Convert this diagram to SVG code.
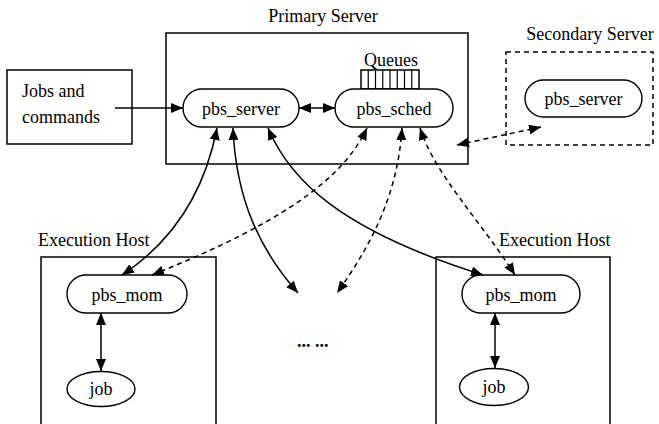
<svg xmlns="http://www.w3.org/2000/svg" width="659" height="424" viewBox="0 0 659 424">
<defs>
<style>
text{font-family:"Liberation Serif","Times New Roman",serif;font-size:18px;fill:#000}
.box{fill:none;stroke:#000;stroke-width:1.5}
.dbox{fill:none;stroke:#000;stroke-width:1.5;stroke-dasharray:5,4}
.node{fill:#fff;stroke:#000;stroke-width:1.4}
.c{fill:none;stroke:#000;stroke-width:1.5}
.d{fill:none;stroke:#000;stroke-width:1.5;stroke-dasharray:5,4}
.mid{text-anchor:middle}
</style>
<marker id="ah" markerUnits="userSpaceOnUse" markerWidth="12" markerHeight="10" refX="12" refY="5" orient="auto-start-reverse" viewBox="0 0 12 10">
<path d="M0,0 L12,5 L0,10 z" fill="#000"/>
</marker>
</defs>

<g id="primary-server">
<rect class="box" x="166" y="33" width="302" height="131"/>
<text class="mid" x="323" y="22">Primary Server</text>
</g>

<g id="secondary-server">
<rect class="dbox" x="506" y="52" width="147" height="93"/>
<text class="mid" x="590" y="40">Secondary Server</text>
</g>

<g id="jobs-commands">
<rect class="box" x="7" y="70" width="125" height="74"/>
<text x="22" y="97">Jobs and</text>
<text x="22" y="123">commands</text>
</g>

<g id="exec-host-left">
<rect class="box" x="41" y="257" width="175" height="180"/>
<text x="38" y="246">Execution Host</text>
</g>

<g id="exec-host-right">
<rect class="box" x="436" y="257" width="174" height="180"/>
<text x="499" y="246">Execution Host</text>
</g>

<g id="queues">
<rect class="box" x="361" y="70" width="58" height="19" stroke-width="1.2"/>
<path d="M368.25,70V89M375.5,70V89M382.75,70V89M390,70V89M397.25,70V89M404.5,70V89M411.75,70V89" stroke="#000" stroke-width="1.2" fill="none"/>
<text class="mid" x="391" y="66">Queues</text>
</g>

<g id="pbs-server">
<rect class="node" x="183" y="89" width="116" height="38" rx="19" ry="19"/>
<text class="mid" x="241" y="115">pbs_server</text>
</g>

<g id="pbs-sched">
<rect class="node" x="335" y="89" width="118" height="38" rx="19" ry="19"/>
<text class="mid" x="394" y="115">pbs_sched</text>
</g>

<g id="pbs-server-secondary">
<rect class="node" x="525" y="80" width="117" height="37" rx="18.5" ry="18.5"/>
<text class="mid" x="583.5" y="105">pbs_server</text>
</g>

<g id="pbs-mom-left">
<rect class="node" x="67" y="275" width="120" height="38" rx="19" ry="19"/>
<text class="mid" x="127" y="301">pbs_mom</text>
</g>

<g id="pbs-mom-right">
<rect class="node" x="462" y="275" width="118" height="38" rx="19" ry="19"/>
<text class="mid" x="521" y="301">pbs_mom</text>
</g>

<g id="job-left">
<ellipse class="node" cx="101" cy="389" rx="34" ry="17.5"/>
<text class="mid" x="101" y="395">job</text>
</g>

<g id="job-right">
<ellipse class="node" cx="494" cy="387" rx="34.5" ry="18.5"/>
<text class="mid" x="494" y="393">job</text>
</g>

<g id="ellipsis">
<text x="297" y="347" font-weight="bold" font-size="21">... ...</text>
</g>

<g id="connectors">
<path class="c" d="M115,108 L183,108" marker-end="url(#ah)"/>
<path class="c" d="M299,108 L335,108" marker-start="url(#ah)" marker-end="url(#ah)"/>
<path class="d" d="M457,145 L541,127" marker-start="url(#ah)" marker-end="url(#ah)"/>
<path class="c" d="M217,128 C205,190 175,240 122,275" marker-start="url(#ah)" marker-end="url(#ah)"/>
<path class="c" d="M233,128 C236,200 260,250 298,293" marker-start="url(#ah)" marker-end="url(#ah)"/>
<path class="c" d="M268,128 C290,180 340,230 483,275" marker-start="url(#ah)" marker-end="url(#ah)"/>
<path class="d" d="M367,128 C345,175 290,220 152,275" marker-start="url(#ah)" marker-end="url(#ah)"/>
<path class="d" d="M402,128 C398,190 375,240 337,293" marker-start="url(#ah)" marker-end="url(#ah)"/>
<path class="d" d="M420,128 C435,175 480,220 515,275" marker-start="url(#ah)" marker-end="url(#ah)"/>
<path class="c" d="M101,313 L101,371" marker-start="url(#ah)" marker-end="url(#ah)"/>
<path class="c" d="M495,313 L495,368" marker-start="url(#ah)" marker-end="url(#ah)"/>
</g>
</svg>
